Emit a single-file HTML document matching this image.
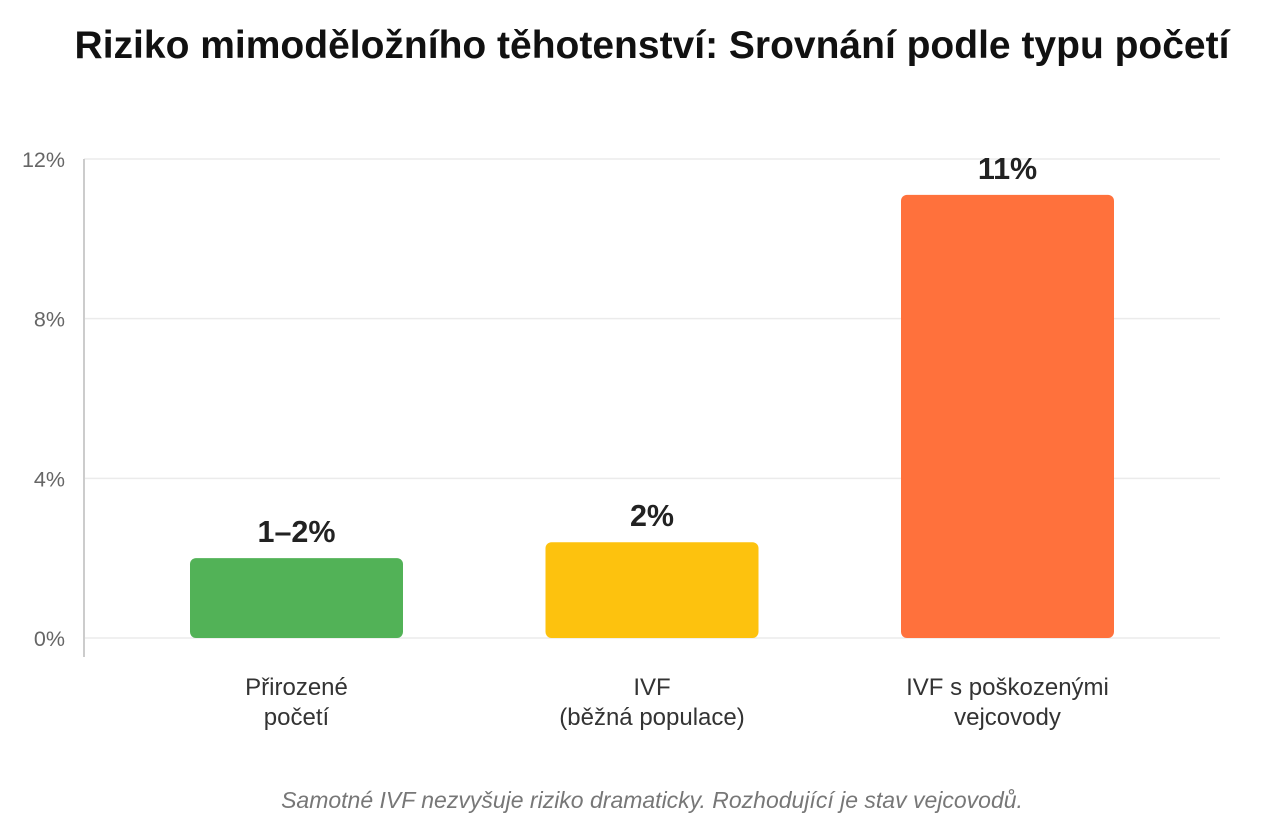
<!DOCTYPE html>
<html><head><meta charset="utf-8"><style>
html,body{margin:0;padding:0;background:#fff;width:1280px;height:831px;overflow:hidden;font-family:"Liberation Sans",Arial,sans-serif}
</style></head><body>
<svg id="chart" width="1280" height="831" xmlns="http://www.w3.org/2000/svg">
<text x="652" y="58" text-anchor="middle" font-size="39" font-weight="bold" fill="#111">Riziko mimoděložního těhotenství: Srovnání podle typu početí</text>
<g id="grid"></g><g id="bars"></g>
<text x="652" y="808" text-anchor="middle" font-size="23" font-style="italic" fill="#777">Samotné IVF nezvyšuje riziko dramaticky. Rozhodující je stav vejcovodů.</text>
</svg>
<script>
const categories=[["Přirozené","početí"],["IVF","(běžná populace)"],["IVF s poškozenými","vejcovody"]];
const values=[2.0,2.4,11.1];
const valueLabels=["1–2%","2%","11%"];
const colors=["#52b257","#fdc20e","#ff713c"];
const ticks=[0,4,8,12];
const NS="http://www.w3.org/2000/svg";
const y0=638,y1=159,yMax=12,x0=84,x1=1220;
const y=v=>y0-(v/yMax)*(y0-y1);
const bx=i=>x0+35+i*355.5+71;
const bw=213;
function mk(t,a,p){const e=document.createElementNS(NS,t);for(const k in a)e.setAttribute(k,a[k]);p.appendChild(e);return e;}
const g=document.getElementById('grid'),b=document.getElementById('bars');
ticks.forEach(t=>{
 const l=mk('line',{x1:x0,x2:x1,y1:y(t),y2:y(t),stroke:'#ebebeb','stroke-width':1.5},g);
 
 
 const tx=mk('text',{x:65,y:y(t)+8,'text-anchor':'end','font-size':21.5,fill:'#666'},g);
 tx.textContent=t+'%';
 
 
});
const ax=mk('line',{x1:x0,x2:x0,y1:y1,y2:657,stroke:'#ccc','stroke-width':2},g);


values.forEach((v,i)=>{
 const x=bx(i);
 const r=mk('rect',{x:x,y:y(v),width:bw,height:y0-y(v),rx:6,fill:colors[i]},b);
 
 
 const vl=mk('text',{x:x+bw/2,y:y(v)-16,'text-anchor':'middle','font-size':30.5,'font-weight':'bold',fill:'#222'},b);
 vl.textContent=valueLabels[i];
 
 
 categories[i].forEach((s,j)=>{
  const c=mk('text',{x:x+bw/2,y:695+j*30,'text-anchor':'middle','font-size':24,fill:'#333'},b);
  c.textContent=s;
  
  
 });
});
</script>
</body></html>
